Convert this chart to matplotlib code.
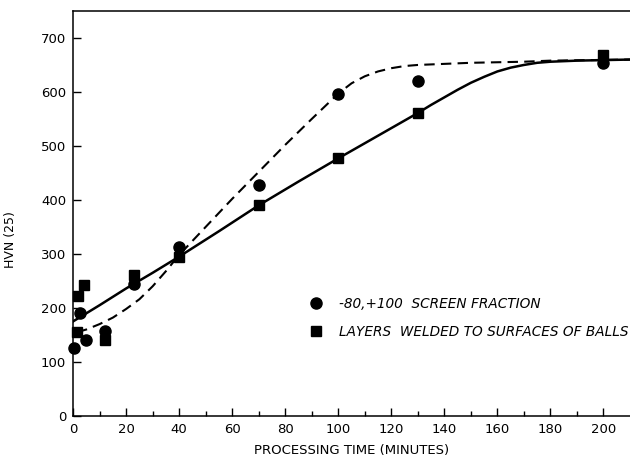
import matplotlib
matplotlib.use("Agg")
import matplotlib.pyplot as plt

# measured points, -80,+100 screen fraction (circles)
screen_t = [0.5, 2.5, 5, 12, 23, 40, 70, 100, 130, 200]
screen_hvn = [125, 190, 140, 158, 245, 312, 427, 597, 620, 653]

# layers welded to surfaces of balls (squares)
layer_t = [1.5, 2, 4, 12, 23, 40, 70, 100, 130, 200]
layer_hvn = [155, 222, 243, 140, 261, 294, 390, 477, 561, 668]

# hand drawn curves
dash_t = [1.5, 5, 10, 15, 20, 25, 30, 35, 40, 50, 60, 70, 80, 90, 100,
          105, 110, 115, 120, 125, 130, 140, 150, 160, 170, 180, 210]
dash_hvn = [155, 160, 170, 182, 198, 216, 240, 268, 298, 350, 402, 452, 502, 550, 597,
            616, 629, 638, 644, 648, 650, 652, 654, 655, 656, 658, 660]

solid_t = [0, 10, 20, 30, 40, 55, 70, 85, 100, 115, 130, 135, 140, 145, 150,
           155, 160, 165, 170, 175, 180, 190, 210]
solid_hvn = [175, 205, 236, 265, 295, 342, 390, 434, 477, 519, 561, 576, 590, 604, 617,
             628, 638, 645, 650, 654, 656, 658, 660]

fig = plt.figure(figsize=(6.3, 4.57), dpi=100)
ax = fig.add_axes([0.116, 0.09, 0.884, 0.886])

ax.plot(dash_t, dash_hvn, color='black', lw=1.5, ls=(0, (5, 3)))
ax.plot(solid_t, solid_hvn, color='black', lw=1.8)
ax.plot(screen_t, screen_hvn, 'o', color='black', ms=8, clip_on=False,
        label='-80,+100  SCREEN FRACTION')
ax.plot(layer_t, layer_hvn, 's', color='black', ms=7, clip_on=False,
        label='LAYERS  WELDED TO SURFACES OF BALLS')

ax.set_xlim(0, 210)
ax.set_ylim(0, 750)
ax.set_xticks(range(0, 201, 20))
ax.set_xticks(range(10, 201, 20), minor=True)
ax.set_yticks(range(0, 701, 100))
ax.tick_params(direction='in', length=6, width=1, labelsize=9.5, pad=5)
ax.tick_params(which='minor', direction='in', length=3.5, width=1)
ax.spines['right'].set_visible(False)
for s in ['left', 'bottom', 'top']:
    ax.spines[s].set_linewidth(1.1)

ax.set_xlabel('PROCESSING TIME (MINUTES)', fontsize=9.5, labelpad=6)
ax.set_ylabel('HVN (25)', fontsize=9)
ax.yaxis.set_label_coords(-0.1, 0.435)

leg = ax.legend(loc='upper left', bbox_to_anchor=(0.405, 0.325), frameon=False,
                handlelength=0.8, handletextpad=1.3, labelspacing=1.05,
                prop={'style': 'italic', 'size': 9.8})

fig.savefig('out.png', dpi=100)
